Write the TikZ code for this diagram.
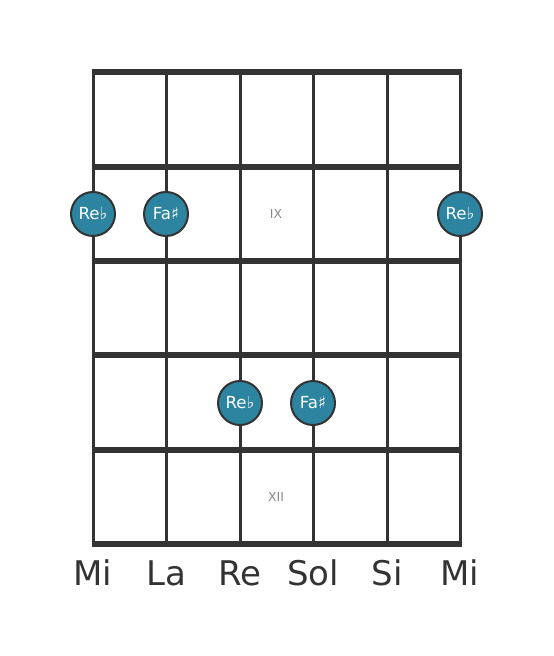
\documentclass[tikz,border=0pt]{standalone}
\usepackage{fontspec}
\setmainfont{DejaVu Sans}
\definecolor{gridgray}{RGB}{51, 51, 51}
\definecolor{noteteal}{RGB}{44, 132, 160}
\definecolor{fretlabel}{RGB}{136, 136, 136}

\begin{document}
\begin{tikzpicture}[
        x=0.5pt, y=-0.5pt,
        fretline/.style={line width=2.6pt, draw=gridgray},
        stringline/.style={line width=1.5pt, draw=gridgray},
        note/.style={circle, draw=gridgray, line width=1pt, fill=noteteal, minimum size=22pt, inner sep=0pt, text=white, font=\fontsize{8.3}{10}\selectfont},
        fretnum/.style={text=fretlabel, font=\fontsize{6.2}{7}\selectfont},
        stringname/.style={text=gridgray, font=\fontsize{17}{20}\selectfont}
    ]
        \useasboundingbox (0,0) rectangle (553,656);

        % Strings
        \foreach \x in {93,166,240,313,387,460}
            \draw[stringline] (\x,72) -- (\x,544);

        % Frets
        \foreach \y in {72,167,261,355,450,544}
            \draw[fretline] (91.5,\y) -- (461.5,\y);

        % Fret numbers
        \node[fretnum] (ix) at (276,214) {IX};
        \node[fretnum] (xii) at (276,497) {XII};

        % Notes
        \node[note] (n1) at (93,214) {Re♭};
        \node[note] (n2) at (166,214) {Fa♯};
        \node[note] (n3) at (460,214) {Re♭};
        \node[note] (n4) at (240,403) {Re♭};
        \node[note] (n5) at (313,403) {Fa♯};

        % String names
        \foreach \x/\s [count=\i] in {93/Mi,166/La,240/Re,313/Sol,387/Si,460/Mi}
            \node[stringname, anchor=base] (s\i) at (\x,585) {\s};
    \end{tikzpicture}
\end{document}
